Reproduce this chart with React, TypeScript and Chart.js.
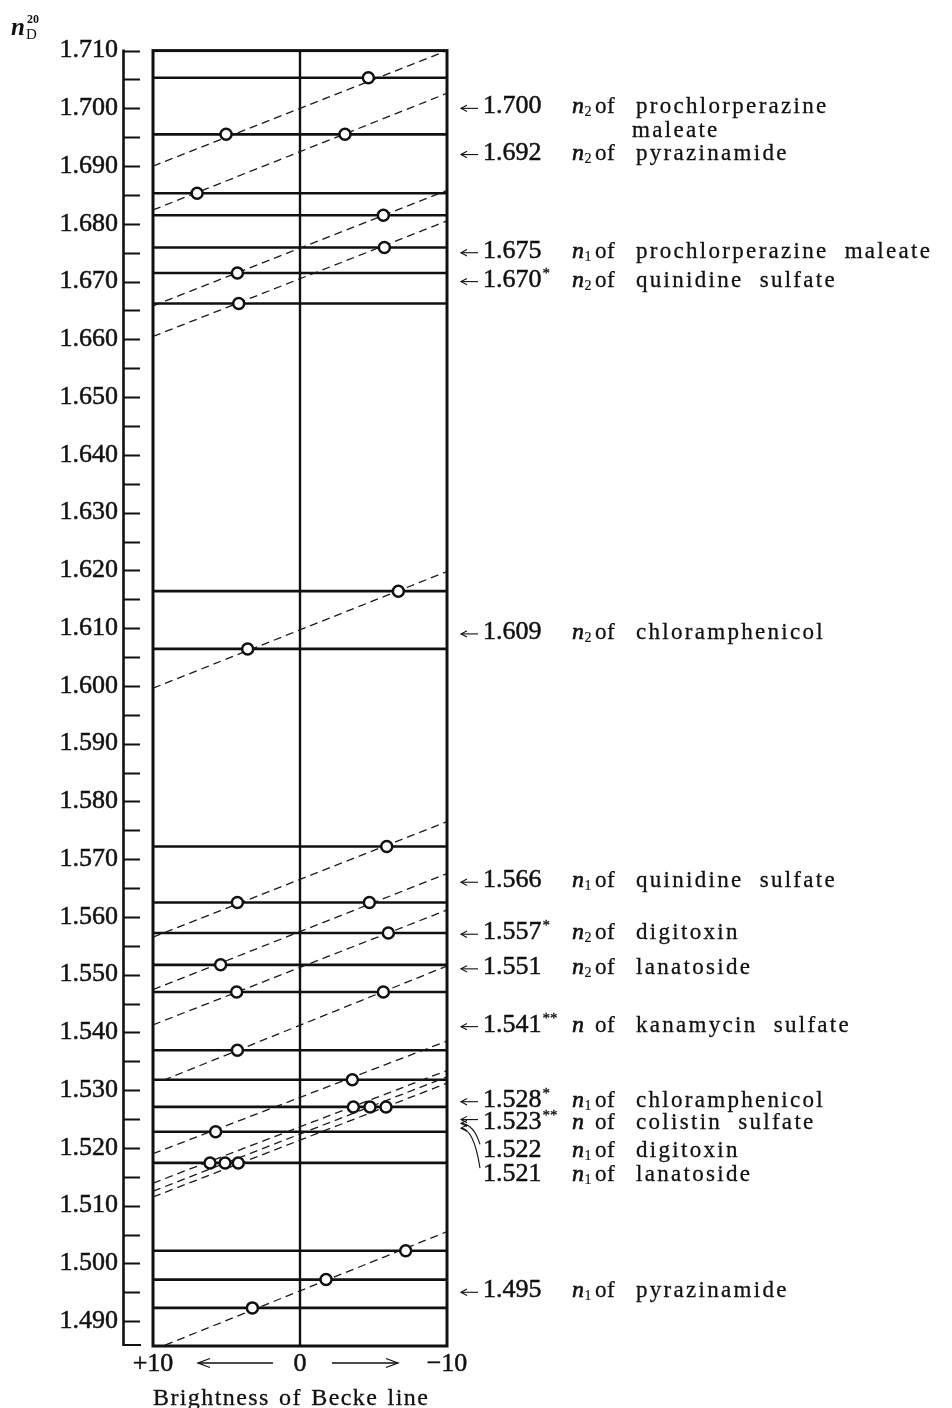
import React, { useEffect, useRef } from "react";
import { Chart, registerables } from "chart.js";

Chart.register(...registerables);

const FONT = "'Liberation Serif', 'DejaVu Serif', serif";
const INK = "#111111";

// ---- axes ----
const yMin = 1.4857;
const yMax = 1.71;
const yTickLabels = [
  "1.490", "1.500", "1.510", "1.520", "1.530", "1.540", "1.550", "1.560",
  "1.570", "1.580", "1.590", "1.600", "1.610", "1.620", "1.630", "1.640",
  "1.650", "1.660", "1.670", "1.680", "1.690", "1.700", "1.710",
];
const xTickValues = [10, 0, -10];
const xTickLabels = ["+10", "0", "\u221210"];
const xTitle = "Brightness of Becke line";

// ---- refractive indices of the immersion liquids (solid horizontal lines) ----
const liquidIndices = [
  1.7053, 1.6955, 1.6853, 1.6815, 1.6759, 1.6715, 1.6662, 1.6164, 1.6064,
  1.5722, 1.5625, 1.5572, 1.5517, 1.5470, 1.5369, 1.5318, 1.5271, 1.5228,
  1.5174, 1.5022, 1.4972, 1.4923,
];

// ---- determined indices (where each dashed line crosses 0) ----
const determinedN = [
  1.700, 1.692, 1.675, 1.670, 1.609, 1.566, 1.557, 1.551, 1.541, 1.528,
  1.523, 1.522, 1.521, 1.495,
];
const determinedText = [
  "1.700", "1.692", "1.675", "1.670", "1.609", "1.566", "1.557", "1.551",
  "1.541", "1.528", "1.523", "1.522", "1.521", "1.495",
];
const determinedStars = ["", "", "", "*", "", "", "*", "", "**", "*", "**", "", "", ""];
const nSubscripts = ["2", "2", "1", "2", "2", "1", "2", "2", "", "1", "", "1", "1", "1"];
const substances = [
  "prochlorperazine", "pyrazinamide", "prochlorperazine maleate",
  "quinidine sulfate", "chloramphenicol", "quinidine sulfate", "digitoxin",
  "lanatoside", "kanamycin sulfate", "chloramphenicol", "colistin sulfate",
  "digitoxin", "lanatoside", "pyrazinamide",
];
const substancesLine2 = ["maleate", "", "", "", "", "", "", "", "", "", "", "", "", ""];

// ---- dashed lines (brightness at start, index at start, index at b = -10) ----
const lineStartB = [10, 10, 10, 10, 10, 10, 10, 10, 9.3, 10, 10, 10, 10, 10];
const lineStartN = [
  1.690, 1.6824, 1.6658, 1.6605, 1.5996, 1.5565, 1.5474, 1.5413, 1.5317,
  1.5190, 1.5139, 1.5125, 1.5115, 1.4850,
];
const lineEndN = [
  1.710, 1.7026, 1.6858, 1.6805, 1.6198, 1.5765, 1.5675, 1.5612, 1.5515,
  1.5385, 1.5334, 1.5323, 1.5312, 1.5055,
];

// ---- observed Becke-line brightness (open circles) ----
const obsBrightness = [
  [5.03, -4.65], [7.0, -3.06], [4.26, -5.67], [4.17, -5.74], [3.56, -6.69],
  [4.26, -5.9], [5.4, -4.72], [4.31, -6.01], [4.26, -5.67], [5.74, -3.56],
  [6.12, -3.63], [5.1, -4.76], [4.2, -5.85], [3.24, -1.77, -7.19],
];
const obsIndex = [
  [1.6955, 1.7053], [1.6853, 1.6955], [1.6715, 1.6815], [1.6662, 1.6759],
  [1.6064, 1.6164], [1.5625, 1.5722], [1.5517, 1.5625], [1.5470, 1.5572],
  [1.5369, 1.5470], [1.5228, 1.5318], [1.5174, 1.5271], [1.5174, 1.5271],
  [1.5174, 1.5271], [1.4923, 1.4972, 1.5022],
];

// ---- layout of the right-hand annotations (pixel shifts) ----
const labelDy = [0, 0, 0, 0, 0, 0, 0, 0, 0, 0, -7, 16, 34, 0];
const arrowDy = [0, 0, 0, 0, 0, 0, 0, 0, 0, 0, -11, -13, -14, 0];

function txt(
  ctx: CanvasRenderingContext2D,
  s: string,
  x: number,
  y: number,
  font: string,
  spacing = 0,
  wordSp = 0,
  stroke = 0
) {
  ctx.font = font;
  (ctx as any).letterSpacing = spacing + "px";
  (ctx as any).wordSpacing = wordSp + "px";
  ctx.fillText(s, x, y);
  if (stroke > 0) {
    ctx.lineWidth = stroke;
    ctx.strokeText(s, x, y);
  }
  const w = ctx.measureText(s).width;
  (ctx as any).letterSpacing = "0px";
  (ctx as any).wordSpacing = "0px";
  return x + w;
}

function leftHead(ctx: CanvasRenderingContext2D, x: number, y: number, len: number, half: number) {
  ctx.beginPath();
  ctx.moveTo(x + len, y - half);
  ctx.lineTo(x, y);
  ctx.lineTo(x + len, y + half);
  ctx.stroke();
}

function rightHead(ctx: CanvasRenderingContext2D, x: number, y: number, len: number, half: number) {
  ctx.beginPath();
  ctx.moveTo(x - len, y - half);
  ctx.lineTo(x, y);
  ctx.lineTo(x - len, y + half);
  ctx.stroke();
}

const decor = {
  id: "decor",
  beforeDatasetsDraw(chart: any) {
    const { ctx, chartArea: a, scales } = chart;
    const cx = scales.x.getPixelForValue(0);
    ctx.save();
    ctx.strokeStyle = INK;
    ctx.lineWidth = 2.4;
    ctx.beginPath();
    ctx.moveTo(cx, a.top);
    ctx.lineTo(cx, a.bottom);
    ctx.stroke();
    ctx.restore();
  },
  afterDatasetsDraw(chart: any) {
    const { ctx, chartArea: a, scales } = chart;
    const y = scales.y;
    ctx.save();
    ctx.strokeStyle = INK;
    // frame
    ctx.lineWidth = 3;
    ctx.strokeRect(a.left, a.top, a.right - a.left, a.bottom - a.top);
    // separate y axis line with ticks pointing right
    const ax = 123.5;
    ctx.lineWidth = 2.6;
    ctx.beginPath();
    ctx.moveTo(ax, a.top - 1);
    ctx.lineTo(ax, a.bottom);
    ctx.stroke();
    ctx.lineWidth = 2.2;
    ctx.beginPath();
    for (let k = 0; k <= 44; k++) {
      const v = 1.49 + k * 0.005;
      const py = Math.round(y.getPixelForValue(v)) + 0.5;
      ctx.moveTo(ax, py);
      ctx.lineTo(140, py);
    }
    const pb = a.bottom - 1;
    ctx.moveTo(ax, pb);
    ctx.lineTo(141, pb);
    ctx.stroke();

    // arrows beneath x axis
    ctx.lineWidth = 1.3;
    const ay = 1363;
    ctx.beginPath();
    ctx.moveTo(198, ay);
    ctx.lineTo(273, ay);
    ctx.moveTo(332, ay);
    ctx.lineTo(398, ay);
    ctx.stroke();
    leftHead(ctx, 198, ay, 12, 4.5);
    rightHead(ctx, 398, ay, 12, 4.5);
    ctx.restore();
  },
  afterDraw(chart: any) {
    const { ctx, scales } = chart;
    const y = scales.y;
    ctx.save();
    ctx.fillStyle = INK;
    ctx.strokeStyle = INK;
    ctx.textAlign = "left";
    ctx.textBaseline = "alphabetic";

    // axis label n_D^20
    txt(ctx, "n", 11, 35, `italic bold 25px ${FONT}`);
    txt(ctx, "D", 26, 39, `15px ${FONT}`);
    txt(ctx, "20", 27, 23, `bold 12px ${FONT}`);

    // x axis title
    txt(ctx, xTitle, 153, 1405, `24px ${FONT}`, 1.4, 2, 0.3);

    // right-hand annotations
    determinedN.forEach((n, i) => {
      const vy = y.getPixelForValue(n);
      const arY = vy + arrowDy[i];
      const by = vy + 5 + labelDy[i];
      ctx.lineWidth = 1.1;
      if (labelDy[i] > 10) {
        leftHead(ctx, 461, arY, 6, 3.2);
        ctx.beginPath();
        ctx.moveTo(461, arY);
        ctx.quadraticCurveTo(474, arY + 1, 480, by - 13);
        ctx.stroke();
      } else {
        ctx.beginPath();
        ctx.moveTo(461, arY);
        ctx.lineTo(478, arY);
        ctx.stroke();
        leftHead(ctx, 461, arY, 6, 3.2);
      }
      const ex = txt(ctx, determinedText[i], 483, by, `26px ${FONT}`, 0, 0, 0.5);
      if (determinedStars[i]) txt(ctx, determinedStars[i], ex + 1, by - 9, `15px ${FONT}`, 0, 0, 0.3);
      const nx = txt(ctx, "n", 572, by, `italic 24px ${FONT}`, 0, 0, 0.6);
      if (nSubscripts[i]) txt(ctx, nSubscripts[i], nx + 0.5, by + 3, `14px ${FONT}`, 0, 0, 0.2);
      txt(ctx, "of", 595, by, `23px ${FONT}`, 0.5, 0, 0.3);
      txt(ctx, substances[i], 636, by, `23px ${FONT}`, 2.3, 8, 0.3);
      if (substancesLine2[i]) txt(ctx, substancesLine2[i], 632, by + 24, `23px ${FONT}`, 2.3, 8, 0.3);
    });
    ctx.restore();
  },
};

export default function App() {
  const ref = useRef<HTMLCanvasElement>(null);

  useEffect(() => {
    const canvas = ref.current;
    if (!canvas) return;

    const points: { x: number; y: number }[] = [];
    obsBrightness.forEach((row, i) =>
      row.forEach((b, j) => points.push({ x: b, y: obsIndex[i][j] }))
    );

    const datasets: any[] = [];
    datasets.push({
      data: points,
      pointRadius: 5.5,
      pointBorderWidth: 2.5,
      pointBackgroundColor: "#ffffff",
      pointBorderColor: INK,
      showLine: false,
      order: 0,
    });
    determinedN.forEach((_, i) => {
      datasets.push({
        data: [
          { x: lineStartB[i], y: lineStartN[i] },
          { x: -10, y: lineEndN[i] },
        ],
        showLine: true,
        borderColor: "#1a1a1a",
        borderWidth: 1.3,
        borderDash: [8, 5],
        pointRadius: 0,
        order: 1,
      });
    });
    liquidIndices.forEach((v) => {
      datasets.push({
        data: [
          { x: 10, y: v },
          { x: -10, y: v },
        ],
        showLine: true,
        borderColor: INK,
        borderWidth: 2.6,
        pointRadius: 0,
        order: 2,
      });
    });

    const chart = new Chart(canvas, {
      type: "scatter",
      data: { datasets },
      options: {
        animation: false,
        responsive: false,
        devicePixelRatio: 1,
        events: [],
        layout: { padding: { top: 47, right: 505, left: 0, bottom: 0 } },
        plugins: { legend: { display: false }, tooltip: { enabled: false } },
        scales: {
          x: {
            type: "linear",
            min: -10,
            max: 10,
            reverse: true,
            afterFit: (s: any) => {
              s.height = 62;
            },
            afterBuildTicks: (s: any) => {
              s.ticks = xTickValues.map((v) => ({ value: v }));
            },
            ticks: {
              callback: (v: any) => xTickLabels[xTickValues.indexOf(Number(v))],
              font: { family: FONT, size: 26 },
              color: INK,
              textStrokeColor: INK,
              textStrokeWidth: 0.5,
              padding: 3,
              maxRotation: 0,
              autoSkip: false,
            },
            grid: { display: false, drawTicks: false },
            border: { display: false },
          },
          y: {
            type: "linear",
            min: yMin,
            max: yMax,
            afterFit: (s: any) => {
              s.width = 153;
            },
            afterBuildTicks: (s: any) => {
              s.ticks = yTickLabels.map((l) => ({ value: parseFloat(l) }));
            },
            ticks: {
              callback: (v: any) => Number(v).toFixed(3),
              font: { family: FONT, size: 26 },
              color: INK,
              textStrokeColor: INK,
              textStrokeWidth: 0.5,
              padding: 35,
              autoSkip: false,
            },
            grid: { display: false, drawTicks: false },
            border: { display: false },
          },
        },
      },
      plugins: [decor],
    } as any);

    return () => chart.destroy();
  }, []);

  return (
    <div style={{ position: "absolute", left: 0, top: 0, width: 952, height: 1408, background: "#fff" }}>
      <canvas ref={ref} width={952} height={1408} style={{ display: "block", width: 952, height: 1408 }} />
    </div>
  );
}
